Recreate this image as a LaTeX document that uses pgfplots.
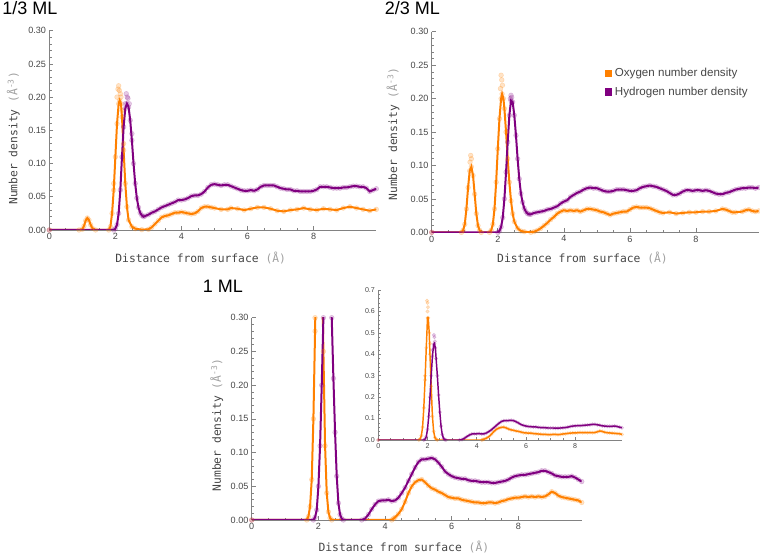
\documentclass[border=0pt]{standalone}
\usepackage{pgfplots}
\pgfplotsset{compat=1.18}
\usepackage{pgfplotstable}
\usepackage{fontspec}
\setmainfont{Liberation Sans}
\newfontfamily\mono{DejaVu Sans Mono}
\definecolor{orangeM}{RGB}{255,128,0}
\definecolor{purpleM}{RGB}{128,0,128}
\definecolor{axgray}{RGB}{130,130,130}
\definecolor{txgray}{RGB}{70,70,70}
\definecolor{ltgray}{RGB}{160,160,160}

\pgfplotstableread{
x y
0 0
0.9 0
1.0 0.001
1.05 0.006
1.1 0.014
1.15 0.018
1.2 0.015
1.25 0.008
1.3 0.003
1.4 0.000
1.8 0
1.85 0.005
1.9 0.025
1.95 0.06
2.0 0.11
2.05 0.16
2.1 0.19
2.13 0.195
2.17 0.19
2.2 0.17
2.25 0.12
2.3 0.07
2.35 0.035
2.4 0.015
2.5 0.005
2.6 0.002
2.8 0.0005
3.0 0.001
3.1 0.004
3.2 0.009
3.3 0.014
3.4 0.019
3.5 0.021
3.6 0.022
3.7 0.024
3.8 0.026
3.9 0.026
4.0 0.027
4.1 0.026
4.2 0.025
4.3 0.024
4.4 0.025
4.5 0.028
4.6 0.033
4.7 0.035
4.8 0.035
4.9 0.034
5.0 0.033
5.2 0.031
5.4 0.031
5.5 0.033
5.7 0.032
5.9 0.030
6.1 0.032
6.3 0.034
6.5 0.034
6.7 0.032
6.9 0.029
7.1 0.028
7.3 0.030
7.5 0.031
7.7 0.033
7.9 0.031
8.1 0.030
8.3 0.032
8.5 0.031
8.7 0.030
8.9 0.033
9.1 0.035
9.3 0.033
9.5 0.031
9.7 0.029
9.9 0.031
}\Oone

\pgfplotstableread{
x y
1.95 0.07
2.05 0.2
2.08 0.212
2.1 0.217
2.12 0.21
2.15 0.205
2.17 0.2
2.2 0.18
2.25 0.13
}\Ooneraw

\pgfplotstableread{
x y
0 0
1.95 0
2.0 0.002
2.05 0.008
2.1 0.025
2.15 0.06
2.2 0.11
2.25 0.155
2.3 0.183
2.35 0.19
2.4 0.185
2.45 0.165
2.5 0.135
2.55 0.10
2.6 0.07
2.65 0.048
2.7 0.034
2.75 0.026
2.8 0.022
2.85 0.020
2.9 0.021
3.0 0.023
3.1 0.026
3.2 0.028
3.3 0.031
3.4 0.034
3.5 0.036
3.6 0.038
3.7 0.040
3.8 0.042
3.9 0.045
4.0 0.045
4.1 0.046
4.2 0.048
4.3 0.051
4.4 0.052
4.5 0.052
4.6 0.054
4.7 0.058
4.8 0.064
4.9 0.068
5.0 0.069
5.1 0.068
5.2 0.067
5.3 0.068
5.4 0.068
5.5 0.066
5.6 0.064
5.7 0.062
5.8 0.060
5.9 0.059
6.0 0.059
6.1 0.060
6.2 0.059
6.3 0.061
6.4 0.065
6.5 0.067
6.6 0.067
6.7 0.067
6.8 0.067
6.9 0.065
7.0 0.063
7.1 0.062
7.2 0.061
7.3 0.061
7.4 0.059
7.5 0.059
7.6 0.058
7.7 0.058
7.8 0.058
7.9 0.058
8.0 0.059
8.1 0.061
8.2 0.065
8.3 0.065
8.4 0.065
8.5 0.064
8.6 0.063
8.7 0.063
8.8 0.063
8.9 0.064
9.0 0.064
9.1 0.065
9.2 0.066
9.3 0.066
9.4 0.065
9.5 0.065
9.6 0.063
9.7 0.058
9.8 0.060
9.9 0.062
}\Hone

\pgfplotstableread{
x y
2.3 0.19
2.33 0.205
2.36 0.2
2.38 0.198
2.42 0.19
2.5 0.145
}\Honeraw

\pgfplotstableread{
x y
0 0
0.9 0
0.95 0.003
1.0 0.012
1.05 0.035
1.1 0.067
1.15 0.092
1.2 0.098
1.25 0.085
1.3 0.057
1.35 0.028
1.4 0.010
1.45 0.003
1.5 0
1.75 0
1.8 0.003
1.85 0.012
1.9 0.035
1.95 0.075
2.0 0.125
2.05 0.17
2.1 0.2
2.13 0.207
2.17 0.2
2.2 0.185
2.25 0.15
2.3 0.11
2.35 0.075
2.4 0.047
2.45 0.028
2.5 0.016
2.6 0.006
2.7 0.002
2.8 0.001
3.0 0.000
3.1 0.001
3.2 0.003
3.3 0.006
3.4 0.010
3.5 0.014
3.6 0.019
3.7 0.023
3.8 0.028
3.9 0.031
4.0 0.033
4.1 0.032
4.2 0.033
4.3 0.032
4.4 0.033
4.5 0.031
4.6 0.033
4.7 0.035
4.8 0.035
4.9 0.034
5.0 0.033
5.1 0.031
5.2 0.030
5.3 0.028
5.4 0.026
5.5 0.028
5.6 0.029
5.7 0.030
5.8 0.031
5.9 0.031
6.0 0.034
6.1 0.037
6.2 0.038
6.3 0.037
6.4 0.037
6.5 0.037
6.6 0.036
6.7 0.034
6.8 0.032
6.9 0.030
7.0 0.029
7.2 0.030
7.4 0.028
7.6 0.029
7.8 0.030
8.0 0.030
8.2 0.031
8.4 0.031
8.6 0.032
8.8 0.035
8.9 0.034
9.0 0.032
9.1 0.030
9.2 0.030
9.4 0.031
9.5 0.033
9.6 0.034
9.7 0.032
9.8 0.031
9.9 0.032
}\Otwo

\pgfplotstableread{
x y
1.16 0.105
1.18 0.115
1.2 0.11
2.08 0.215
2.1 0.235
2.12 0.228
2.14 0.22
}\Otworaw

\pgfplotstableread{
x y
0 0
2.0 0
2.05 0.002
2.1 0.008
2.15 0.022
2.2 0.05
2.25 0.09
2.3 0.135
2.35 0.175
2.4 0.197
2.45 0.195
2.5 0.175
2.55 0.145
2.6 0.11
2.65 0.08
2.7 0.058
2.75 0.045
2.8 0.036
2.85 0.031
2.9 0.028
2.95 0.027
3.0 0.027
3.1 0.029
3.2 0.030
3.3 0.031
3.4 0.032
3.5 0.034
3.6 0.035
3.7 0.037
3.8 0.039
3.9 0.043
4.0 0.046
4.1 0.048
4.2 0.053
4.3 0.056
4.4 0.059
4.5 0.061
4.6 0.064
4.7 0.066
4.8 0.067
4.9 0.066
5.0 0.066
5.1 0.064
5.2 0.062
5.3 0.061
5.4 0.061
5.5 0.062
5.6 0.064
5.7 0.064
5.8 0.064
5.9 0.063
6.0 0.062
6.1 0.062
6.2 0.063
6.3 0.066
6.4 0.068
6.5 0.069
6.6 0.070
6.7 0.069
6.8 0.068
6.9 0.066
7.0 0.064
7.1 0.062
7.2 0.059
7.3 0.056
7.4 0.056
7.5 0.058
7.6 0.061
7.7 0.063
7.8 0.063
7.9 0.062
8.0 0.063
8.1 0.063
8.2 0.062
8.3 0.063
8.4 0.062
8.5 0.060
8.6 0.058
8.7 0.057
8.8 0.057
8.9 0.059
9.0 0.060
9.1 0.062
9.2 0.064
9.3 0.065
9.4 0.066
9.5 0.066
9.6 0.067
9.7 0.067
9.8 0.066
9.9 0.067
}\Htwo

\pgfplotstableread{
x y
2.38 0.2
2.4 0.205
2.42 0.202
}\Htworaw

\pgfplotstableread{
x y
0 0
1.65 0
1.7 0.005
1.75 0.02
1.8 0.06
1.85 0.15
1.9 0.28
1.95 0.43
2.0 0.57
2.03 0.57
2.07 0.50
2.1 0.40
2.15 0.25
2.2 0.11
2.25 0.04
2.3 0.012
2.35 0.003
2.4 0
4.2 0
4.25 0.002
4.3 0.004
4.4 0.009
4.5 0.016
4.6 0.027
4.7 0.040
4.8 0.050
4.9 0.056
5.0 0.059
5.1 0.060
5.2 0.056
5.3 0.051
5.4 0.047
5.5 0.045
5.6 0.042
5.7 0.040
5.8 0.037
5.9 0.034
6.0 0.033
6.1 0.032
6.2 0.032
6.3 0.030
6.4 0.029
6.5 0.028
6.6 0.027
6.7 0.026
6.8 0.026
6.9 0.025
7.0 0.025
7.1 0.026
7.2 0.026
7.3 0.025
7.4 0.026
7.5 0.028
7.6 0.029
7.7 0.031
7.8 0.032
7.9 0.033
8.0 0.033
8.1 0.034
8.2 0.035
8.3 0.034
8.4 0.035
8.5 0.034
8.6 0.035
8.7 0.034
8.8 0.035
8.9 0.038
9.0 0.042
9.1 0.040
9.2 0.036
9.3 0.034
9.4 0.033
9.5 0.032
9.6 0.031
9.7 0.030
9.8 0.029
9.9 0.026
}\Othree

\pgfplotstableread{
x y
1.9 0.30
1.98 0.65
2.0 0.64
2.02 0.62
2.0 0.60
2.1 0.45
}\Othreeraw

\pgfplotstableread{
x y
0 0
1.85 0
1.9 0.004
1.95 0.015
2.0 0.05
2.05 0.11
2.1 0.2
2.15 0.3
2.2 0.39
2.25 0.445
2.28 0.45
2.32 0.43
2.35 0.38
2.4 0.3
2.45 0.21
2.5 0.13
2.55 0.065
2.6 0.025
2.65 0.008
2.7 0.002
2.75 0
3.3 0
3.4 0.002
3.5 0.008
3.6 0.016
3.7 0.023
3.8 0.028
3.9 0.029
4.0 0.029
4.1 0.030
4.2 0.028
4.3 0.029
4.4 0.033
4.5 0.040
4.6 0.048
4.7 0.058
4.8 0.068
4.9 0.078
5.0 0.086
5.1 0.090
5.2 0.090
5.3 0.091
5.4 0.092
5.5 0.090
5.6 0.085
5.7 0.079
5.8 0.072
5.9 0.068
6.0 0.065
6.1 0.063
6.2 0.062
6.3 0.061
6.4 0.061
6.5 0.059
6.6 0.058
6.7 0.058
6.8 0.057
6.9 0.056
7.0 0.056
7.1 0.056
7.2 0.055
7.3 0.055
7.4 0.056
7.5 0.057
7.6 0.058
7.7 0.060
7.8 0.063
7.9 0.065
8.0 0.066
8.1 0.067
8.2 0.067
8.3 0.068
8.4 0.069
8.5 0.070
8.6 0.071
8.7 0.073
8.8 0.073
8.9 0.071
9.0 0.069
9.1 0.066
9.2 0.065
9.3 0.064
9.4 0.064
9.5 0.064
9.6 0.065
9.7 0.063
9.8 0.060
9.9 0.057
}\Hthree

\pgfplotstableread{
x y
2.2 0.42
2.26 0.49
2.28 0.48
2.3 0.46
}\Hthreeraw

\pgfplotsset{
  mmaaxis/.style={
    scale only axis,
    axis lines*=left,
    xmin=0, xmax=9.9, ymin=0,
    axis line style={axgray, line width=0.6pt},
    every tick/.style={axgray, line width=0.5pt},
    tick align=inside,
    major tick length=3pt,
    minor tick length=1.7pt,
    xtick={0,2,4,6,8},
    minor x tick num=3,
    /pgf/number format/assume math mode=true,
    tick label style={font=\fontsize{6.8}{7}\selectfont, text=txgray},
    xticklabel style={yshift=1pt},
    yticklabel style={xshift=1pt},
    label style={font=\mono\fontsize{8.5}{9}\selectfont, text=txgray},
    clip=true,
  },
  mainax/.style={
    mmaaxis,
    ymax=0.3,
    ytick={0,0.05,...,0.31},
    minor y tick num=4,
    yticklabel style={/pgf/number format/.cd, fixed, fixed zerofill, precision=2},
    xlabel={Distance from surface \textcolor{ltgray}{(Å)}},
    ylabel={Number density \textcolor{ltgray}{(Å\textsuperscript{-3})}},
  },
  omark/.style={only marks, mark=*, mark size=1.8pt, color=orangeM, opacity=0.22, forget plot},
  hmark/.style={only marks, mark=*, mark size=1.8pt, color=purpleM, opacity=0.2, forget plot},
  oline/.style={orangeM, line width=1.5pt, mark=none, forget plot},
  hline/.style={purpleM, line width=1.5pt, mark=none, forget plot},
}

\begin{document}
\begin{tikzpicture}
\path[use as bounding box] (0,0) rectangle (570pt,416.25pt);

% Panel 1
\begin{axis}[mainax, at={(36.98pt,243.75pt)}, anchor=south west,
  width=245.25pt, height=149.5pt,
  xlabel style={at={(axis description cs:0.463,0)}, anchor=center, yshift=-21pt},
  ylabel style={at={(axis description cs:-0.110,0.46)}, anchor=center}]
\addplot[omark] table {\Oone};
\addplot[omark] table {\Ooneraw};
\addplot[oline] table {\Oone};
\addplot[hmark] table {\Hone};
\addplot[hmark] table {\Honeraw};
\addplot[hline] table {\Hone};
\end{axis}
\node[anchor=base west, font=\fontsize{13.5}{14}\selectfont, inner sep=0pt] at (1.5pt,405pt) {1/3 ML};

% Panel 2
\begin{axis}[mainax, at={(323.8pt,242.0pt)}, anchor=south west,
  width=245.25pt, height=150.4pt,
  xlabel style={at={(axis description cs:0.461,0)}, anchor=center, yshift=-19.5pt},
  ylabel style={at={(axis description cs:-0.118,0.49)}, anchor=center},
  legend style={draw=none, fill=none, at={(0.525,0.84)}, anchor=north west,
    font=\fontsize{8.7}{9}\selectfont, text=txgray, row sep=2.2pt, inner sep=1pt},
  legend cell align=left,
  legend image code/.code={\fill[#1] (0pt,-2.7pt) rectangle (5.4pt,2.7pt);}]
\addlegendimage{fill=orangeM, draw=none}
\addlegendimage{fill=purpleM, draw=none}
\addplot[omark] table {\Otwo};
\addplot[omark] table {\Otworaw};
\addplot[oline] table {\Otwo};
\addplot[hmark] table {\Htwo};
\addplot[hmark] table {\Htworaw};
\addplot[hline] table {\Htwo};
\legend{Oxygen number density, Hydrogen number density}
\end{axis}
\node[anchor=base west, font=\fontsize{13.5}{14}\selectfont, inner sep=0pt] at (288.5pt,405pt) {2/3 ML};

% Panel 3
\begin{axis}[mainax, at={(188.8pt,26.25pt)}, anchor=south west,
  width=247.5pt, height=151.7pt,
  xlabel style={at={(axis description cs:0.461,0)}, anchor=center, yshift=-20pt},
  ylabel style={at={(axis description cs:-0.106,0.47)}, anchor=center}]
\addplot[omark] table {\Othree};
\addplot[omark] table {\Othreeraw};
\addplot[oline] table {\Othree};
\addplot[hmark] table {\Hthree};
\addplot[hmark] table {\Hthreeraw};
\addplot[hline] table {\Hthree};
\end{axis}
\node[anchor=base west, font=\fontsize{13.5}{14}\selectfont, inner sep=0pt] at (152pt,197pt) {1 ML};

% Inset
\begin{axis}[mmaaxis, at={(283.7pt,86.25pt)}, anchor=south west,
  width=182.8pt, height=112.5pt,
  ymax=0.7,
  ytick={0,0.1,...,0.71},
  minor y tick num=4,
  major tick length=2.4pt,
  minor tick length=1.3pt,
  tick label style={font=\fontsize{5.3}{6}\selectfont, text=txgray},
  yticklabel style={/pgf/number format/.cd, fixed, fixed zerofill, precision=1},
  omark/.append style={mark size=1.3pt},
  hmark/.append style={mark size=1.3pt},
  oline/.append style={line width=1.1pt},
  hline/.append style={line width=1.1pt}]
\addplot[omark] table {\Othree};
\addplot[omark] table {\Othreeraw};
\addplot[oline] table {\Othree};
\addplot[hmark] table {\Hthree};
\addplot[hmark] table {\Hthreeraw};
\addplot[hline] table {\Hthree};
\end{axis}
\end{tikzpicture}
\end{document}
